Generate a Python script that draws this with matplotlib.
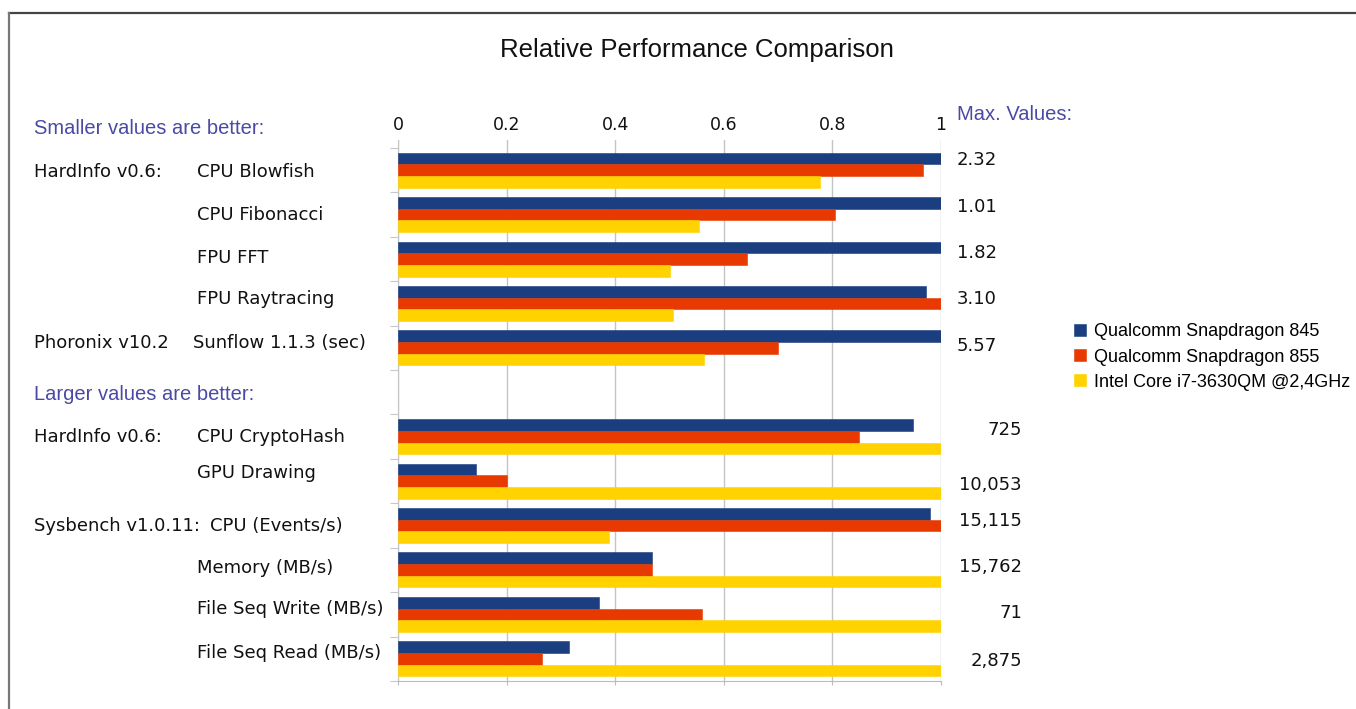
import matplotlib
matplotlib.use("Agg")
from matplotlib import pyplot as plt
from matplotlib import transforms
from matplotlib.lines import Line2D
import numpy as np

W, H = 1356, 709
dpi = 100

# data: relative values (1 = max of the three), max values as printed
groups_small = ["HardInfo v0.6:", "", "", "", "Phoronix v10.2"]
metrics_small = ["CPU Blowfish", "CPU Fibonacci", "FPU FFT", "FPU Raytracing", "Sunflow 1.1.3 (sec)"]
sd845_small = [1.0, 1.0, 1.0, 0.972, 1.0]
sd855_small = [0.966, 0.804, 0.643, 1.0, 0.700]
i7_small = [0.777, 0.555, 0.500, 0.507, 0.564]
max_small = ["2.32", "1.01", "1.82", "3.10", "5.57"]

groups_large = ["HardInfo v0.6:", "", "Sysbench v1.0.11:", "", "", ""]
metrics_large = ["CPU CryptoHash", "GPU Drawing", "CPU (Events/s)", "Memory (MB/s)",
                 "File Seq Write (MB/s)", "File Seq Read (MB/s)"]
sd845_large = [0.949, 0.143, 0.980, 0.467, 0.370, 0.315]
sd855_large = [0.849, 0.200, 1.0, 0.467, 0.559, 0.266]
i7_large = [1.0, 1.0, 0.388, 1.0, 1.0, 1.0]
max_large = ["725", "10,053", "15,115", "15,762", "71", "2,875"]

series_names = ["Qualcomm Snapdragon 845", "Qualcomm Snapdragon 855",
                "Intel Core i7-3630QM @2,4GHz"]
colors = ["#1a3e7f", "#e83a00", "#ffd200"]
head_color = "#4a4aa6"
txt_color = "#111111"

# layout: smaller block, one empty slot, larger block
pos_small = np.arange(len(metrics_small))
pos_large = np.arange(len(metrics_large)) + len(metrics_small) + 1
positions = np.concatenate([pos_small, pos_large])
n_slots = len(positions) + 1
series = [sd845_small + sd845_large, sd855_small + sd855_large, i7_small + i7_large]

fig = plt.figure(figsize=(W / dpi, H / dpi), dpi=dpi)
ax = fig.add_axes([398 / W, 1 - 681 / H, 543 / W, (681 - 140) / H])

bh = 0.263
for k, (vals, col) in enumerate(zip(series, colors)):
    ax.barh(positions + (k - 1) * bh, vals, height=bh, color=col,
            edgecolor=col, linewidth=0.4, zorder=3, label=series_names[k])

top_extra = 8 / ((681 - 148) / n_slots)
ax.set_ylim(n_slots - 0.5, -0.5 - top_extra)
ax.set_xlim(0, 1)
ax.set_yticks([])
ax.set_yticks(np.arange(n_slots + 1) - 0.5, minor=True)
ax.tick_params(axis="y", which="minor", length=6, color="#c8c8c8", width=0.8)
ax.set_xticks([0, 0.2, 0.4, 0.6, 0.8, 1.0])
ax.set_xticklabels(["0", "0.2", "0.4", "0.6", "0.8", "1"])
ax.tick_params(axis="x", which="major", top=False, labeltop=True, bottom=True,
               labelbottom=False, length=3, pad=1, labelsize=12.5,
               labelcolor=txt_color, color="#bbbbbb")
ax.grid(axis="x", color="#c4c4c4", linewidth=1, zorder=0)
for s in ["top", "right"]:
    ax.spines[s].set_visible(False)
ax.spines["left"].set_color("#c4c4c4")
ax.spines["bottom"].set_color("#bbbbbb")

# text columns: x in figure pixels, y in data
tr = transforms.blended_transform_factory(fig.transFigure, ax.transData)

metric_dy = [1.5, 0, -1.5, -4, -5, 0, -8, 0, -2, -5, -6]
metric_x = [197, 197, 197, 197, 193, 197, 197, 210, 197, 197, 197]
groups = groups_small + groups_large
metrics = metrics_small + metrics_large
for i, p in enumerate(positions):
    ax.annotate(metrics[i], (metric_x[i] / W, p), xycoords=tr, xytext=(0, -metric_dy[i]),
                textcoords="offset pixels", ha="left", va="center", fontsize=13,
                color=txt_color, family="DejaVu Sans")
    if groups[i]:
        ax.annotate(groups[i], (34 / W, p), xycoords=tr, xytext=(0, -metric_dy[i]),
                    textcoords="offset pixels", ha="left", va="center", fontsize=13,
                    color=txt_color, family="DejaVu Sans")

max_dy = [-10, -8, -6, -4, -2, -7, 4, -4.5, -3, -1, 2]
maxes = max_small + max_large
for i, p in enumerate(positions):
    small = i < len(max_small)
    ax.annotate(maxes[i], ((957 if small else 1022) / W, p), xycoords=tr,
                xytext=(0, -max_dy[i]), textcoords="offset pixels",
                ha="left" if small else "right", va="center", fontsize=13,
                color=txt_color, family="DejaVu Sans")

fig.text(34 / W, 1 - 129 / H, "Smaller values are better:", ha="left", va="center",
         fontsize=14.5, color=head_color, family="Liberation Sans")
fig.text(34 / W, 1 - 394 / H, "Larger values are better:", ha="left", va="center",
         fontsize=14.5, color=head_color, family="Liberation Sans")
fig.text(957 / W, 1 - 114 / H, "Max. Values:", ha="left", va="center",
         fontsize=14.5, color=head_color, family="Liberation Sans")
fig.text(697 / W, 1 - 50 / H, "Relative Performance Comparison", ha="center", va="center",
         fontsize=18.5, color=txt_color, family="Liberation Sans")

# legend
handles, labels = ax.get_legend_handles_labels()
fig.legend(handles, labels, loc="center left", bbox_to_anchor=(1074 / W, 1 - 357 / H),
           frameon=False, borderaxespad=0, borderpad=0, handlelength=0.65,
           handleheight=0.65, handletextpad=0.45, labelspacing=0.45,
           prop={"family": "Liberation Sans", "size": 13})

# outer frame (top and left edges visible)
fig.add_artist(Line2D([9 / W, 1.0], [1 - 13 / H, 1 - 13 / H], transform=fig.transFigure,
                      color="#444444", linewidth=1.6))
fig.add_artist(Line2D([9 / W, 9 / W], [1 - 13 / H, 0], transform=fig.transFigure,
                      color="#777777", linewidth=1.6))

fig.savefig("out.png", dpi=dpi)
